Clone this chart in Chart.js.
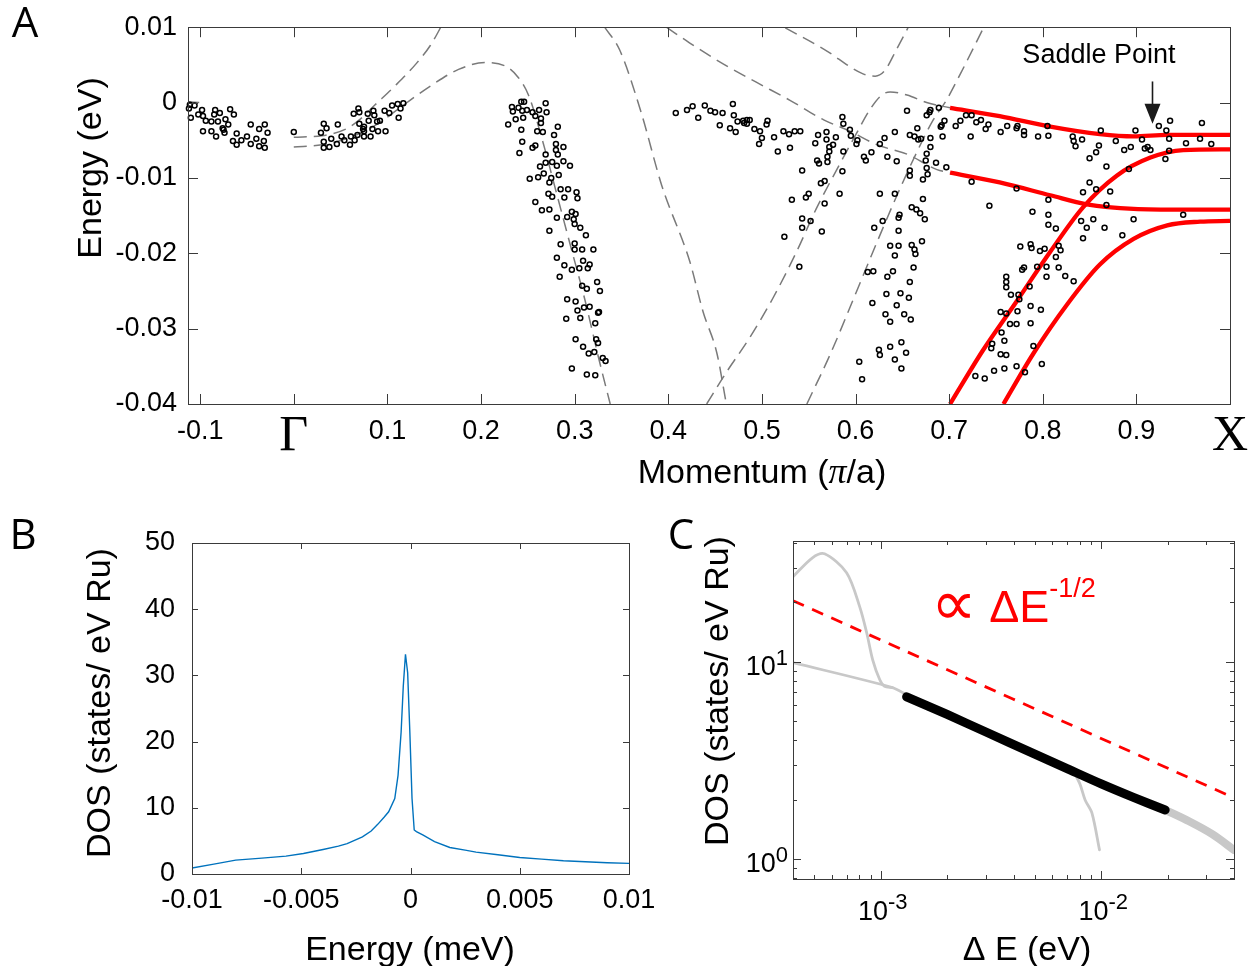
<!DOCTYPE html>
<html>
<head>
<meta charset="utf-8">
<script src="https://cdn.jsdelivr.net/npm/chart.js@4.4.1/dist/chart.umd.min.js"></script>
<style>
  html, body { margin: 0; padding: 0; background: #fff; }
  #page { position: relative; width: 1258px; height: 966px; overflow: hidden; }
  canvas { position: absolute; }
</style>
</head>
<body>
<div id="page">
  <canvas id="bands" width="1258" height="490" style="left:0;top:0"></canvas>
  <canvas id="dos" width="680" height="476" style="left:0;top:490px"></canvas>
  <canvas id="dosLog" width="598" height="476" style="left:660px;top:490px"></canvas>
</div>
<script>
// ---- A: ARPES peak positions (momentum in pi/a, energy in eV) ----
const arpesPoints = [
  // left of Gamma
  [-0.112,-0.0008],[-0.111,-0.0003],[-0.110,-0.0020],[-0.106,-0.0004],[-0.102,-0.0016],[-0.098,-0.0010],[-0.097,-0.0018],
  [-0.094,-0.0024],[-0.088,-0.0025],[-0.084,-0.0010],[-0.085,-0.0016],[-0.079,-0.0014],[-0.081,-0.0025],[-0.097,-0.0038],
  [-0.088,-0.0038],[-0.083,-0.0045],[-0.076,-0.0034],[-0.075,-0.0036],[-0.073,-0.0022],[-0.074,-0.0040],[-0.070,-0.0029],
  [-0.068,-0.0009],[-0.064,-0.0016],[-0.065,-0.0051],[-0.061,-0.0056],[-0.061,-0.0041],[-0.056,-0.0050],[-0.050,-0.0045],
  [-0.046,-0.0029],[-0.046,-0.0055],[-0.040,-0.0048],[-0.037,-0.0035],[-0.037,-0.0058],[-0.031,-0.0029],[-0.032,-0.0051],
  [-0.028,-0.0040],[-0.031,-0.0060],
  // 0 .. 0.12
  [0.000,-0.0039],[0.029,-0.0040],[0.032,-0.0028],[0.035,-0.0034],[0.032,-0.0052],[0.032,-0.0060],[0.038,-0.0059],
  [0.040,-0.0048],[0.046,-0.0055],[0.047,-0.0029],[0.051,-0.0045],[0.054,-0.0050],[0.060,-0.0056],[0.061,-0.0045],
  [0.064,-0.0015],[0.065,-0.0050],[0.068,-0.0043],[0.069,-0.0008],[0.070,-0.0013],[0.070,-0.0028],[0.074,-0.0035],
  [0.075,-0.0038],[0.075,-0.0032],[0.075,-0.0045],[0.079,-0.0015],[0.080,-0.0024],[0.082,-0.0045],[0.084,-0.0035],
  [0.085,-0.0011],[0.086,-0.0017],[0.089,-0.0025],[0.090,-0.0038],[0.092,-0.0024],[0.098,-0.0038],[0.097,-0.0011],
  [0.102,-0.0014],[0.105,-0.0004],[0.111,-0.0002],[0.112,-0.0020],[0.114,-0.0008],[0.117,-0.0001],
  // steep band 0.23 .. 0.33
  [0.229,-0.0029],[0.233,-0.0006],[0.234,-0.0012],[0.237,-0.0022],[0.240,-0.0007],[0.243,0.0001],[0.244,-0.0011],
  [0.246,0.0001],[0.245,-0.0020],[0.249,-0.0010],[0.243,-0.0036],[0.244,-0.0052],[0.241,-0.0067],[0.252,-0.0101],
  [0.255,-0.0060],[0.255,-0.0013],[0.258,-0.0018],[0.258,-0.0057],[0.258,-0.0132],[0.260,-0.0038],[0.261,-0.0099],
  [0.262,-0.0010],[0.263,-0.0085],[0.264,-0.0021],[0.264,-0.0027],[0.265,-0.0143],[0.266,-0.0039],[0.267,-0.0094],
  [0.269,-0.0069],[0.269,-0.0001],[0.270,-0.0013],[0.269,-0.0080],[0.272,-0.0121],[0.273,-0.0106],[0.273,-0.0170],
  [0.273,-0.0142],[0.275,-0.0100],[0.276,-0.0079],[0.276,-0.0125],[0.278,-0.0043],[0.280,-0.0055],[0.280,-0.0063],
  [0.281,-0.0153],[0.281,-0.0084],[0.282,-0.0069],[0.282,-0.0032],[0.283,-0.0096],[0.285,-0.0115],[0.285,-0.0188],
  [0.281,-0.0206],[0.288,-0.0059],[0.288,-0.0078],[0.289,-0.0126],[0.289,-0.0216],[0.284,-0.0231],[0.291,-0.0287],
  [0.292,-0.0152],[0.292,-0.0261],[0.293,-0.0115],[0.295,-0.0084],[0.297,-0.0145],[0.297,-0.0222],[0.297,-0.0353],
  [0.299,-0.0155],[0.300,-0.0161],[0.301,-0.0148],[0.300,-0.0187],[0.300,-0.0195],[0.301,-0.0264],[0.301,-0.0314],
  [0.302,-0.0119],[0.303,-0.0276],[0.303,-0.0127],[0.305,-0.0220],[0.306,-0.0286],[0.306,-0.0166],[0.308,-0.0195],
  [0.308,-0.0243],[0.309,-0.0210],[0.309,-0.0324],[0.310,-0.0272],[0.312,-0.0176],[0.313,-0.0247],[0.313,-0.0361],
  [0.314,-0.0220],[0.315,-0.0333],[0.316,-0.0215],[0.316,-0.0271],[0.320,-0.0195],[0.321,-0.0331],[0.322,-0.0293],
  [0.322,-0.0362],[0.323,-0.0314],[0.324,-0.0238],[0.325,-0.0319],[0.325,-0.0279],[0.326,-0.0278],[0.327,-0.0250],
  [0.330,-0.0339],[0.333,-0.0343],
  // 0.40 .. 0.70, near E_F
  [0.408,-0.0014],[0.420,-0.0010],[0.426,-0.0005],[0.432,-0.0020],[0.439,-0.0004],[0.445,-0.0011],[0.450,-0.0013],
  [0.455,-0.0030],[0.458,-0.0014],[0.466,-0.0034],[0.469,-0.0002],[0.470,-0.0017],[0.472,-0.0039],[0.474,-0.0025],
  [0.480,-0.0024],[0.481,-0.0027],[0.484,-0.0023],[0.484,-0.0028],[0.487,-0.0023],[0.492,-0.0035],[0.497,-0.0055],
  [0.498,-0.0038],[0.500,-0.0047],[0.505,-0.0029],[0.506,-0.0024],[0.513,-0.0046],[0.517,-0.0065],[0.523,-0.0038],
  [0.529,-0.0042],[0.530,-0.0060],[0.535,-0.0038],[0.541,-0.0038],[0.543,-0.0090],[0.532,-0.0129],[0.540,-0.0218],
  [0.547,-0.0126],[0.550,-0.0121],[0.543,-0.0154],[0.543,-0.0166],[0.552,-0.0157],[0.524,-0.0178],[0.557,-0.0054],
  [0.559,-0.0077],[0.560,-0.0043],[0.561,-0.0081],[0.563,-0.0107],[0.564,-0.0171],[0.567,-0.0104],[0.567,-0.0134],
  [0.569,-0.0039],[0.569,-0.0049],[0.570,-0.0072],[0.570,-0.0079],[0.572,-0.0065],[0.572,-0.0059],[0.576,-0.0056],
  [0.579,-0.0046],[0.583,-0.0121],[0.586,-0.0019],[0.587,-0.0028],[0.587,-0.0065],[0.586,-0.0091],[0.594,-0.0036],
  [0.595,-0.0044],[0.601,-0.0055],[0.602,-0.0050],[0.609,-0.0072],[0.611,-0.0077],[0.617,-0.0066],[0.626,-0.0055],
  [0.626,-0.0121],[0.629,-0.0157],[0.631,-0.0047],[0.634,-0.0072],[0.642,-0.0039],[0.642,-0.0121],[0.644,-0.0078],
  [0.646,-0.0153],[0.647,-0.0149],[0.646,-0.0170],[0.655,-0.0011],[0.658,-0.0043],[0.658,-0.0090],[0.658,-0.0097],
  [0.660,-0.0139],[0.663,-0.0045],[0.665,-0.0142],[0.666,-0.0034],[0.667,-0.0049],[0.669,-0.0147],[0.670,-0.0048],
  [0.671,-0.0184],[0.672,-0.0102],[0.672,-0.0128],[0.674,-0.0155],[0.675,-0.0077],[0.676,-0.0087],[0.676,-0.0068],
  [0.676,-0.0017],[0.677,-0.0095],[0.679,-0.0013],[0.680,-0.0010],[0.680,-0.0047],[0.680,-0.0059],[0.686,-0.0080],
  [0.689,-0.0007],[0.691,-0.0032],[0.692,-0.0030],[0.693,-0.0045],[0.695,-0.0024],[0.697,-0.0086],
  // 0.60 .. 0.67, deep branch
  [0.613,-0.0225],[0.619,-0.0224],[0.618,-0.0266],[0.620,-0.0166],[0.633,-0.0254],[0.632,-0.0281],[0.637,-0.0291],
  [0.634,-0.0231],[0.637,-0.0190],[0.640,-0.0224],[0.642,-0.0203],[0.644,-0.0269],[0.646,-0.0190],[0.648,-0.0253],
  [0.649,-0.0318],[0.652,-0.0281],[0.654,-0.0332],[0.657,-0.0259],[0.658,-0.0238],[0.659,-0.0288],[0.662,-0.0219],
  [0.663,-0.0195],[0.664,-0.0201],[0.660,-0.0189],[0.625,-0.0328],[0.626,-0.0335],[0.637,-0.0324],[0.642,-0.0341],
  [0.649,-0.0353],[0.604,-0.0344],[0.607,-0.0367],
  // 0.70 .. 1.0
  [0.707,-0.0031],[0.712,-0.0024],[0.718,-0.0017],[0.723,-0.0045],[0.724,-0.0105],[0.724,-0.0017],[0.729,-0.0026],
  [0.734,-0.0023],[0.739,-0.0035],[0.742,-0.0029],[0.743,-0.0137],[0.755,-0.0039],[0.762,-0.0031],[0.772,-0.0034],
  [0.772,-0.0114],[0.773,-0.0031],[0.780,-0.0038],[0.780,-0.0043],[0.789,-0.0145],[0.795,-0.0045],[0.805,-0.0031],
  [0.806,-0.0044],[0.806,-0.0129],[0.806,-0.0149],[0.806,-0.0162],[0.814,-0.0167],[0.832,-0.0045],[0.833,-0.0051],
  [0.835,-0.0058],[0.842,-0.0049],[0.843,-0.0119],[0.850,-0.0106],[0.850,-0.0074],[0.857,-0.0066],[0.857,-0.0115],
  [0.860,-0.0057],[0.862,-0.0037],[0.868,-0.0085],[0.868,-0.0136],[0.872,-0.0118],[0.878,-0.0051],[0.887,-0.0063],
  [0.892,-0.0088],[0.894,-0.0059],[0.897,-0.0155],[0.899,-0.0037],[0.906,-0.0049],[0.909,-0.0061],[0.912,-0.0059],
  [0.915,-0.0063],[0.924,-0.0031],[0.932,-0.0037],[0.931,-0.0075],[0.935,-0.0064],[0.935,-0.0048],[0.936,-0.0024],
  [0.950,-0.0149],[0.953,-0.0054],[0.968,-0.0048],[0.970,-0.0027],[0.980,-0.0055],[0.841,-0.0157],[0.843,-0.0180],
  [0.847,-0.0166],[0.854,-0.0155],[0.866,-0.0166],[0.885,-0.0176],
  [0.776,-0.0191],[0.787,-0.0188],[0.788,-0.0193],[0.797,-0.0197],[0.802,-0.0194],[0.817,-0.0190],[0.819,-0.0196],
  [0.814,-0.0205],[0.817,-0.0219],[0.794,-0.0218],[0.804,-0.0218],[0.824,-0.0230],[0.778,-0.0222],[0.780,-0.0219],
  [0.761,-0.0231],[0.761,-0.0238],[0.761,-0.0245],[0.766,-0.0255],[0.774,-0.0255],[0.775,-0.0261],[0.786,-0.0244],
  [0.804,-0.0231],[0.755,-0.0278],[0.761,-0.0280],[0.773,-0.0277],[0.787,-0.0270],[0.798,-0.0275],[0.765,-0.0294],
  [0.772,-0.0294],[0.787,-0.0293],[0.790,-0.0323],[0.756,-0.0305],[0.759,-0.0316],[0.746,-0.0320],[0.745,-0.0326],
  [0.755,-0.0334],[0.761,-0.0335],[0.759,-0.0353],[0.748,-0.0356],[0.772,-0.0350],[0.781,-0.0358],[0.799,-0.0347],
  [0.728,-0.0363],[0.738,-0.0366],[0.833,-0.0237]
];

// calculated bands (grey dashed)
const calcBands = [
  [[-0.113, 0.0001], [-0.101, 0.0000]],
  [[0.000,-0.0059],[0.030,-0.0056],[0.056,-0.0048],[0.086,-0.0031],[0.123,0.0002],[0.146,0.0022],[0.176,0.0044],
   [0.204,0.0053],[0.225,0.0049],[0.240,0.0033],[0.251,0.0009],[0.266,-0.0052],[0.281,-0.0122],[0.296,-0.0192],
   [0.311,-0.0262],[0.326,-0.0341],[0.338,-0.0400]],
  [[0.000,-0.0046],[0.030,-0.0044],[0.056,-0.0035],[0.071,-0.0022],[0.086,-0.0004],[0.108,0.0022],[0.131,0.0052],
   [0.146,0.0076],[0.157,0.0100],[0.162,0.0112]],
  [[0.332,0.0100],[0.348,0.0070],[0.371,-0.0013],[0.393,-0.0110],[0.423,-0.0211],[0.437,-0.0277],[0.452,-0.0333],
   [0.462,-0.0400]],
  [[0.441,-0.0400],[0.462,-0.0358],[0.487,-0.0312],[0.512,-0.0259],[0.537,-0.0198],[0.558,-0.0141],[0.580,-0.0089],
   [0.601,-0.0041],[0.615,-0.0010],[0.628,0.0010],[0.637,0.0014],[0.655,0.0010],[0.676,0.0000],[0.701,-0.0007]],
  [[0.548,-0.0400],[0.573,-0.0334],[0.601,-0.0251],[0.623,-0.0185],[0.644,-0.0124],[0.665,-0.0067],[0.683,-0.0023],
   [0.697,0.0003],[0.712,0.0038],[0.737,0.0100]],
  [[0.398,0.0100],[0.423,0.0079],[0.459,0.0051],[0.494,0.0027],[0.530,0.0003],[0.566,-0.0023],[0.594,-0.0038],
   [0.623,-0.0056],[0.656,-0.0069],[0.687,-0.0089],[0.701,-0.0093]],
  [[0.525,0.0099],[0.566,0.0071],[0.608,0.0038],[0.621,0.0035],[0.631,0.0042],[0.644,0.0071],[0.656,0.0099]]
];

// fitted bands near X (red)
const fitBands = [
  [[0.701,-0.0007],[0.754,-0.0018],[0.808,-0.0032],[0.861,-0.0042],[0.897,-0.0045],[0.933,-0.0043],[0.968,-0.0043],[1.0,-0.0043]],
  [[0.701,-0.0093],[0.754,-0.0106],[0.808,-0.0123],[0.847,-0.0135],[0.897,-0.0141],[0.950,-0.0142],[1.0,-0.0142]],
  [[0.701,-0.0400],[0.736,-0.0329],[0.772,-0.0264],[0.808,-0.0198],[0.843,-0.0139],[0.879,-0.0097],[0.915,-0.0073],[0.950,-0.0063],[1.0,-0.0062]],
  [[0.758,-0.0400],[0.790,-0.0333],[0.826,-0.0268],[0.861,-0.0215],[0.897,-0.0181],[0.933,-0.0163],[0.968,-0.0158],[1.0,-0.0157]]
];

const bandXTicks = [-0.1, 0, 0.1, 0.2, 0.3, 0.4, 0.5, 0.6, 0.7, 0.8, 0.9, 1.0];
const bandXLabels = ['-0.1', 'Γ', '0.1', '0.2', '0.3', '0.4', '0.5', '0.6', '0.7', '0.8', '0.9', 'X'];
const bandYTicks = [-0.04, -0.03, -0.02, -0.01, 0, 0.01];
const bandYLabels = ['-0.04', '-0.03', '-0.02', '-0.01', '0', '0.01'];
const saddleK = 0.917;

// ---- B: density of states ----
const dosEnergy = [-0.0100,-0.0090,-0.0080,-0.0068,-0.0057,-0.0049,-0.0040,-0.0033,-0.0029,-0.0022,-0.0018,-0.0015,
  -0.0012,-0.0010,-0.00072,-0.00057,-0.00043,-0.00033,-0.00023,-0.00013,-0.00003,0.00007,0.00017,0.00027,0.00056,
  0.0011,0.0018,0.0025,0.0030,0.0040,0.0050,0.0060,0.0070,0.0080,0.0090,0.0100];
const dosValue = [0.9,1.5,2.1,2.4,2.7,3.1,3.7,4.2,4.6,5.6,6.5,7.5,8.6,9.4,11.4,14.9,21.4,28.4,33.2,30.4,21.4,11.4,
  6.65,6.4,5.9,4.9,4.0,3.6,3.3,2.9,2.5,2.25,2.0,1.85,1.7,1.6];
const dosXTicks = [-0.01, -0.005, 0, 0.005, 0.01];
const dosXLabels = ['-0.01', '-0.005', '0', '0.005', '0.01'];
const dosYTicks = [0, 10, 20, 30, 40, 50];

// ---- C: DOS vs distance from the saddle point, log-log ----
const peakDE  = [4.0e-4, 4.9e-4, 5.56e-4, 7.0e-4, 8.03e-4, 8.64e-4, 9.2e-4, 9.9e-4, 1.04e-3, 1.13e-3];
const peakDOS = [27, 33.7, 35.3, 28.3, 19.0, 14.0, 10.2, 8.1, 7.5, 7.4];
const tailDE  = [4.0e-4, 1.13e-3, 1.31e-3, 2e-3, 3e-3, 5e-3, 7e-3, 1e-2, 1.4e-2, 1.95e-2];
const tailDOS = [9.9, 7.4, 6.8, 5.4, 4.4, 3.4, 2.87, 2.4, 2.05, 1.77];
const farDE   = [1.95e-2, 2.5e-2, 3.2e-2, 4.0e-2];
const farDOS  = [1.77, 1.55, 1.33, 1.11];
const dropDE  = [7.4e-3, 8.0e-3, 8.45e-3, 9.07e-3, 9.82e-3];
const dropDOS = [2.85, 2.4, 1.99, 1.71, 1.11];
const fitDE   = [1.31e-3, 2e-3, 3e-3, 5e-3, 7e-3, 1e-2, 1.4e-2, 1.95e-2];
const fitDOS  = [6.64, 5.4, 4.4, 3.4, 2.87, 2.4, 2.05, 1.77];
const guideDE  = [4e-4, 4e-2];
const guideDOS = [20.4, 2.04];
const logXMajor = [1e-3, 1e-2], logXExp = ['-3', '-2'];
const logYMajor = [1, 10],      logYExp = ['0', '1'];

const SANS = '"Liberation Sans", Arial, Helvetica, sans-serif';
const SERIF = '"Liberation Serif", "Times New Roman", serif';
const LETTER = '"Open Sans", "Liberation Sans", sans-serif';
const FRAME = '#3a3a3a';

const xy = (pairs) => pairs.map(p => ({ x: p[0], y: p[1] }));
const zip = (xs, ys) => xs.map((x, i) => ({ x, y: ys[i] }));

function decadeTicks(min, max) {
  const out = [];
  for (let e = Math.floor(Math.log10(min)); e <= Math.ceil(Math.log10(max)); e++) {
    for (let s = 1; s < 10; s++) {
      const v = s * Math.pow(10, e);
      if (v >= min * 0.9999 && v <= max * 1.0001) out.push({ value: v, major: s === 1 });
    }
  }
  return out;
}

// closed box with inward ticks on all four sides
const boxPlugin = {
  id: 'box',
  afterDatasetsDraw(chart, args, opts) {
    const { ctx, chartArea: a, scales } = chart;
    const len = t => (t.major === false ? opts.minor : opts.major);
    ctx.save();
    ctx.strokeStyle = FRAME;
    ctx.lineWidth = 1;
    ctx.beginPath();
    scales.x.ticks.forEach(t => {
      const p = Math.round(scales.x.getPixelForValue(t.value)) + 0.5;
      ctx.moveTo(p, a.bottom); ctx.lineTo(p, a.bottom - len(t));
      ctx.moveTo(p, a.top); ctx.lineTo(p, a.top + len(t));
    });
    scales.y.ticks.forEach(t => {
      const p = Math.round(scales.y.getPixelForValue(t.value)) + 0.5;
      ctx.moveTo(a.left, p); ctx.lineTo(a.left + len(t), p);
      ctx.moveTo(a.right, p); ctx.lineTo(a.right - len(t), p);
    });
    ctx.stroke();
    ctx.strokeRect(Math.round(a.left) + 0.5, Math.round(a.top) + 0.5,
      Math.round(a.right - a.left), Math.round(a.bottom - a.top));
    ctx.restore();
  }
};
Chart.register(boxPlugin);

function label(ctx, str, x, y, font, opt = {}) {
  ctx.save();
  ctx.font = font;
  ctx.fillStyle = opt.color || '#000';
  ctx.textAlign = opt.align || 'center';
  ctx.textBaseline = opt.baseline || 'middle';
  ctx.translate(x, y);
  if (opt.rotate) ctx.rotate(opt.rotate);
  ctx.fillText(str, 0, 0);
  ctx.restore();
}

// text made of runs with different fonts / baseline shifts
function runs(ctx, parts, x, y, align) {
  ctx.save();
  ctx.textAlign = 'left';
  ctx.textBaseline = 'alphabetic';
  let w = 0;
  parts.forEach(p => { ctx.font = p.font; p.w = ctx.measureText(p.text).width; w += p.w; });
  let cx = align === 'center' ? x - w / 2 : align === 'right' ? x - w : x;
  parts.forEach(p => {
    ctx.font = p.font;
    ctx.fillStyle = p.color || '#000';
    ctx.fillText(p.text, cx, y + (p.dy || 0));
    cx += p.w;
  });
  ctx.restore();
}

const common = {
  responsive: false,
  animation: false,
  events: [],
  plugins: { legend: { display: false }, tooltip: { enabled: false } }
};
const noGrid = { display: false, drawTicks: false };

// ---------------- panel A ----------------
const grayBand = pairs => ({
  data: xy(pairs), showLine: true, borderColor: '#7a7a7a', borderWidth: 1.5, borderDash: [13, 7],
  pointRadius: 0, cubicInterpolationMode: 'monotone', clip: 0, order: 3
});
const redBand = pairs => ({
  data: xy(pairs), showLine: true, borderColor: '#ff0000', borderWidth: 4.3,
  pointRadius: 0, cubicInterpolationMode: 'monotone', clip: 0, order: 2
});

new Chart(document.getElementById('bands'), {
  type: 'scatter',
  data: {
    datasets: [
      { data: xy(arpesPoints), showLine: false, pointStyle: 'circle', pointRadius: 2.5, pointBorderWidth: 1.5,
        pointBorderColor: '#000', pointBackgroundColor: 'rgba(255,255,255,0)', clip: false, order: 1 },
      ...fitBands.map(redBand),
      ...calcBands.map(grayBand)
    ]
  },
  options: {
    ...common,
    layout: { padding: { left: 88, right: 28, top: 23, bottom: 26 } },
    plugins: { ...common.plugins, box: { major: 10, minor: 10 } },
    scales: {
      x: {
        type: 'linear', min: -0.113, max: 1.0,
        grid: noGrid, border: { display: false },
        afterFit: s => { s.height = 60; },
        afterBuildTicks: s => { s.ticks = bandXTicks.map(v => ({ value: v })); },
        ticks: {
          color: '#000', padding: 8, autoSkip: false, maxRotation: 0,
          callback: (v, i) => bandXLabels[i],
          font: c => (c.type === 'tick' && (bandXLabels[c.index] === 'Γ' || bandXLabels[c.index] === 'X'))
            ? { family: SERIF, size: 50, lineHeight: 1.0 }
            : { family: SANS, size: 27, lineHeight: 1.48 }
        }
      },
      y: {
        type: 'linear', min: -0.04, max: 0.01,
        grid: noGrid, border: { display: false },
        afterFit: s => { s.width = 100; },
        afterBuildTicks: s => { s.ticks = bandYTicks.map(v => ({ value: v })); },
        ticks: { color: '#000', padding: 11, font: { family: SANS, size: 27 }, callback: (v, i) => bandYLabels[i] }
      }
    }
  },
  plugins: [{
    id: 'decorA',
    afterDraw(chart) {
      const { ctx, scales: { x, y } } = chart;
      label(ctx, 'A', 25, 25, '42px ' + LETTER);
      label(ctx, 'Energy (eV)', 92, 168, '34px ' + SANS, { rotate: -Math.PI / 2 });
      runs(ctx, [
        { text: 'Momentum (', font: '34px ' + SANS },
        { text: 'π', font: 'italic 36px ' + SERIF },
        { text: '/a)', font: '34px ' + SANS }
      ], 762, 483, 'center');
      label(ctx, 'Saddle Point', x.getPixelForValue(0.860), y.getPixelForValue(0.0063), '27px ' + SANS);
      // arrow down onto the saddle point
      const ax = Math.round(x.getPixelForValue(saddleK)) + 0.5;
      const y0 = y.getPixelForValue(0.0028), y1 = y.getPixelForValue(-0.0028);
      ctx.save();
      ctx.strokeStyle = '#1a1a1a'; ctx.fillStyle = '#1a1a1a'; ctx.lineWidth = 1.6;
      ctx.beginPath(); ctx.moveTo(ax, y0); ctx.lineTo(ax, y1 - 16); ctx.stroke();
      ctx.beginPath(); ctx.moveTo(ax - 8, y1 - 20); ctx.lineTo(ax + 8, y1 - 20); ctx.lineTo(ax, y1); ctx.closePath(); ctx.fill();
      ctx.restore();
    }
  }]
});

// ---------------- panel B ----------------
new Chart(document.getElementById('dos'), {
  type: 'line',
  data: {
    datasets: [{
      data: zip(dosEnergy, dosValue), borderColor: '#0072bd', borderWidth: 1.4, pointRadius: 0, tension: 0, clip: 0
    }]
  },
  options: {
    ...common,
    layout: { padding: { left: 92, right: 51, top: 53, bottom: 32 } },
    plugins: { ...common.plugins, box: { major: 6, minor: 6 } },
    scales: {
      x: {
        type: 'linear', min: -0.01, max: 0.01,
        grid: noGrid, border: { display: false },
        afterFit: s => { s.height = 60; },
        afterBuildTicks: s => { s.ticks = dosXTicks.map(v => ({ value: v })); },
        ticks: { color: '#000', padding: 10, autoSkip: false, maxRotation: 0, font: { family: SANS, size: 27 },
          callback: (v, i) => dosXLabels[i] }
      },
      y: {
        type: 'linear', min: 0, max: 50,
        grid: noGrid, border: { display: false },
        afterFit: s => { s.width = 100; },
        afterBuildTicks: s => { s.ticks = dosYTicks.map(v => ({ value: v })); },
        ticks: { color: '#000', padding: 17, font: { family: SANS, size: 27 } }
      }
    }
  },
  plugins: [{
    id: 'decorB',
    afterDraw(chart) {
      const { ctx } = chart;
      label(ctx, 'B', 23, 47, '42px ' + LETTER);
      label(ctx, 'DOS (states/ eV Ru)', 101, 213, '34px ' + SANS, { rotate: -Math.PI / 2 });
      label(ctx, 'Energy (meV)', 410, 470, '34px ' + SANS, { baseline: 'alphabetic' });
    }
  }]
});

// ---------------- panel C ----------------
const logLine = (xs, ys, color, width, extra = {}) => ({
  data: zip(xs, ys), showLine: true, borderColor: color, borderWidth: width, pointRadius: 0,
  tension: 0.3, clip: 0, borderCapStyle: 'round', ...extra
});

new Chart(document.getElementById('dosLog'), {
  type: 'scatter',
  data: {
    datasets: [
      logLine(guideDE, guideDOS, '#ff0000', 2.8, { borderDash: [12, 9], borderCapStyle: 'butt', order: 0 }),
      logLine(fitDE, fitDOS, '#000000', 9, { order: 1 }),
      logLine(farDE, farDOS, '#c8c8c8', 8, { order: 2 }),
      logLine(tailDE, tailDOS, '#c8c8c8', 2.8, { order: 3 }),
      logLine(peakDE, peakDOS, '#c8c8c8', 2.8, { order: 3 }),
      logLine(dropDE, dropDOS, '#c8c8c8', 2.8, { order: 3 })
    ]
  },
  options: {
    ...common,
    layout: { padding: { left: 33, right: 24, top: 51, bottom: 27 } },
    plugins: { ...common.plugins, box: { major: 8, minor: 4 } },
    scales: {
      x: {
        type: 'logarithmic', min: 4e-4, max: 4e-2,
        grid: noGrid, border: { display: false },
        afterFit: s => { s.height = 60; },
        afterBuildTicks: s => { s.ticks = decadeTicks(s.min, s.max); },
        ticks: { display: false }
      },
      y: {
        type: 'logarithmic', min: 0.79, max: 41,
        grid: noGrid, border: { display: false },
        afterFit: s => { s.width = 100; },
        afterBuildTicks: s => { s.ticks = decadeTicks(s.min, s.max); },
        ticks: { display: false }
      }
    }
  },
  plugins: [{
    id: 'decorC',
    afterDraw(chart) {
      const { ctx, chartArea: a, scales: { x, y } } = chart;
      const base = '27px ' + SANS, sup = '22px ' + SANS;
      logXMajor.forEach((v, i) => runs(ctx, [
        { text: '10', font: base }, { text: logXExp[i], font: sup, dy: -11 }
      ], x.getPixelForValue(v) + 2, a.bottom + 41, 'center'));
      logYMajor.forEach((v, i) => runs(ctx, [
        { text: '10', font: base }, { text: logYExp[i], font: sup, dy: -10 }
      ], a.left - 5, y.getPixelForValue(v) + 13, 'right'));
      label(ctx, 'C', 21, 47, '42px ' + LETTER);
      label(ctx, 'DOS (states/ eV Ru)', 59, 201, '34px ' + SANS, { rotate: -Math.PI / 2 });
      label(ctx, 'Δ E (eV)', 367, 470, '34px ' + SANS, { baseline: 'alphabetic' });
      runs(ctx, [
        { text: '∝', font: '64px "DejaVu Sans", sans-serif', color: '#ff0000', dy: 3 },
        { text: ' ΔE', font: '45px ' + SANS, color: '#ff0000' },
        { text: '-1/2', font: '27px ' + SANS, color: '#ff0000', dy: -25 }
      ], 271, 132, 'left');
    }
  }]
});
</script>
</body>
</html>
